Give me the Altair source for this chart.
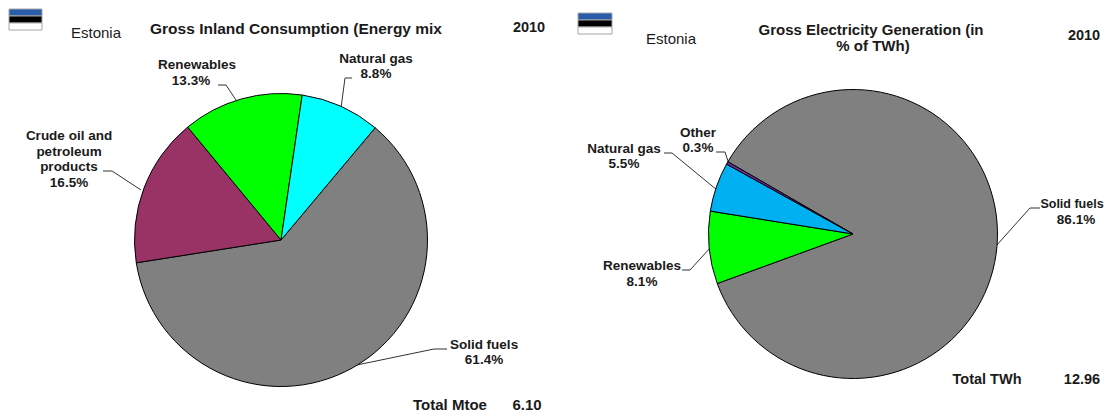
import altair as alt
import pandas as pd
import math

W, H = 1096, 404
L_NAMES = ["Solid fuels", "Crude oil", "Renewables", "Natural gas"]
L_VALUES = [61.4, 16.5, 13.3, 8.8]
L_COLORS = ["#808080", "#993366", "#00FF00", "#00FFFF"]
R_NAMES = ["Solid fuels", "Renewables", "Natural gas", "Other"]
R_VALUES = [86.1, 8.1, 5.5, 0.3]
R_COLORS = ["#808080", "#00FF00", "#00B0F0", "#7030A0"]

X = alt.Scale(domain=[8, 8 + W], range=[0, W])
Y = alt.Scale(domain=[8, 8 + H], range=[0, H])

def pie(names, values, colors, cx, cy, r, start):
    df = pd.DataFrame({"name": names, "value": values, "ord": range(len(names)), "color": colors, "cx": cx, "cy": cy})
    s = math.radians(start)
    return (
        alt.Chart(df)
        .transform_stack(stack="value", groupby=["cx"], as_=["v0", "v1"], sort=[alt.SortField("ord")])
        .mark_arc(radius=r, stroke="#000000", strokeWidth=1)
        .encode(
            x=alt.X("cx:Q", scale=X, axis=None),
            y=alt.Y("cy:Q", scale=Y, axis=None),
            theta=alt.Theta("v0:Q", stack=None, scale=alt.Scale(domain=[0, 100], range=[s, s + 2 * math.pi])),
            theta2="v1:Q",
            color=alt.Color("color:N", scale=None),
        )
    )

FLAG_X = [[9, 42], [578, 612]]
FLAG_Y = [[9, 16, 23, 30], [13, 20, 27, 34]]
FLAG_COLORS = ["#2A5CAA", "#000000", "#FFFFFF"]
flag_rows = []
for fx, fy in zip(FLAG_X, FLAG_Y):
    for i, c in enumerate(FLAG_COLORS):
        flag_rows.append({"x": fx[0], "x2": fx[1], "y": fy[i], "y2": fy[i + 1], "c": c})
flags = alt.Chart(pd.DataFrame(flag_rows)).mark_rect(stroke="#A6A6A6", strokeWidth=1).encode(
    x=alt.X("x:Q", scale=X, axis=None), x2="x2:Q",
    y=alt.Y("y:Q", scale=Y, axis=None), y2="y2:Q",
    color=alt.Color("c:N", scale=None),
)

LEADERS = [
    [(218, 85), (226, 85), (240, 106)],
    [(352, 78), (345, 78), (341, 108)],
    [(103, 171), (112, 171), (141, 190)],
    [(447, 349), (434, 349), (352, 366)],
    [(664, 153), (672, 153), (717, 190)],
    [(716, 152), (725, 152), (729, 164)],
    [(682, 270), (690, 270), (711, 247)],
    [(1040, 208), (1030, 208), (996, 246)],
]
line_rows = [{"id": i, "o": j, "x": p[0], "y": p[1]} for i, pts in enumerate(LEADERS) for j, p in enumerate(pts)]
leaders = alt.Chart(pd.DataFrame(line_rows)).mark_line(color="#333333", strokeWidth=1).encode(
    x=alt.X("x:Q", scale=X, axis=None),
    y=alt.Y("y:Q", scale=Y, axis=None),
    order="o:Q", detail="id:N",
)

LABELS = [
    ("Estonia", 96, 33, 15, False), ("Gross Inland Consumption (Energy mix", 296, 29, 15.5, True), ("2010", 529, 28, 14.5, True),
    ("Renewables", 197, 65, 13.5, True), ("13.3%", 191, 81, 13.5, True),
    ("Natural gas", 376, 59, 13.5, True), ("8.8%", 376, 74, 13.5, True),
    ("Crude oil and", 69, 136, 13.5, True), ("petroleum", 69, 152, 13.5, True), ("products", 69, 167, 13.5, True), ("16.5%", 69, 183, 13.5, True),
    ("Solid  fuels", 484, 345, 13.5, True), ("61.4%", 484, 360, 13.5, True),
    ("Total Mtoe", 450, 405, 15, True), ("6.10", 527, 405, 15, True),
    ("Estonia", 671, 39, 15, False), ("Gross  Electricity  Generation (in", 871, 30, 15, True), ("%  of TWh)", 873, 46, 15, True), ("2010", 1084, 36, 14.5, True),
    ("Other", 698, 133, 13.5, True), ("0.3%", 698, 148, 13.5, True),
    ("Natural  gas", 624, 149, 13.5, True), ("5.5%", 624, 164, 13.5, True),
    ("Renewables", 642, 266, 13.5, True), ("8.1%", 642, 282, 13.5, True),
    ("Solid  fuels", 1072, 204, 12.5, True), ("86.1%", 1076, 220, 13.5, True),
    ("Total TWh", 987, 380, 14.5, True), ("12.96", 1082, 380, 14.5, True),
]
lab = pd.DataFrame(LABELS, columns=["t", "x", "y", "s", "b"])
def text_layer(d, weight):
    return alt.Chart(d).mark_text(font="Liberation Sans", fontWeight=weight, color="#1A1A1A", align="center", baseline="middle").encode(
        x=alt.X("x:Q", scale=X, axis=None),
        y=alt.Y("y:Q", scale=Y, axis=None),
        text="t:N",
        size=alt.Size("s:Q", scale=None, legend=None),
    )

chart = alt.layer(
    leaders,
    pie(L_NAMES, L_VALUES, L_COLORS, 281, 240, 146.5, 40),
    pie(R_NAMES, R_VALUES, R_COLORS, 853, 234, 144.5, 300),
    flags,
    text_layer(lab[lab.b], "bold"),
    text_layer(lab[~lab.b], "normal"),
).resolve_scale(theta="independent").properties(
    width=W, height=H, padding=0, autosize=alt.AutoSizeParams(type="none")
).configure_view(stroke=None)

chart.save("out.html", embed_options={"renderer": "svg", "actions": False})
